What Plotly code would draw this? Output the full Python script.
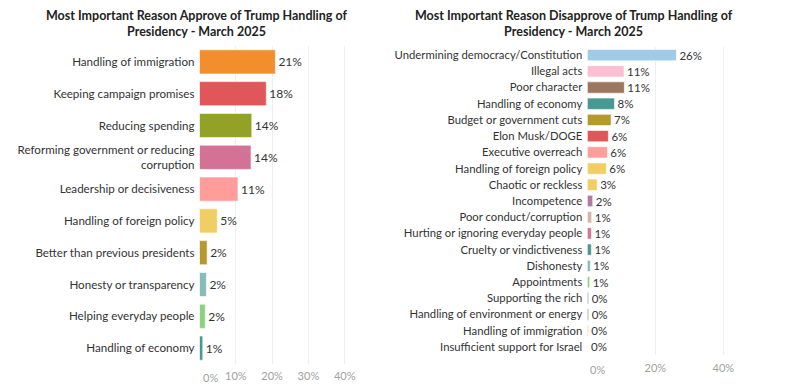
import plotly.graph_objects as go

# ---------------- data ----------------
approve_reasons = [
    "Handling of immigration",
    "Keeping campaign promises",
    "Reducing spending",
    "Reforming government or reducing<br>corruption",
    "Leadership or decisiveness",
    "Handling of foreign policy",
    "Better than previous presidents",
    "Honesty or transparency",
    "Helping everyday people",
    "Handling of economy",
]
approve_values = [20.9, 18.4, 14.4, 14.2, 10.6, 4.9, 2.1, 1.9, 1.6, 0.9]
approve_colors = ["#F28E2B", "#E15759", "#93A126", "#D37295", "#FF9D9A",
                  "#F1CE63", "#B6992D", "#86BCB6", "#8CD17D", "#499894"]

disapprove_reasons = [
    "Undermining democracy/Constitution",
    "Illegal acts",
    "Poor character",
    "Handling of economy",
    "Budget or government cuts",
    "Elon Musk/DOGE",
    "Executive overreach",
    "Handling of foreign policy",
    "Chaotic or reckless",
    "Incompetence",
    "Poor conduct/corruption",
    "Hurting or ignoring everyday people",
    "Cruelty or vindictiveness",
    "Dishonesty",
    "Appointments",
    "Supporting the rich",
    "Handling of environment or energy",
    "Handling of immigration",
    "Insufficient support for Israel",
]
disapprove_values = [26.2, 10.8, 10.9, 8.0, 7.0, 6.2, 5.9, 5.6, 2.9, 1.6,
                     1.3, 1.2, 1.2, 0.9, 0.7, 0.4, 0.4, 0.3, 0.2]
disapprove_colors = ["#A0CBE8", "#FABFD2", "#9D7660", "#499894", "#B6992D",
                     "#E15759", "#FF9D9A", "#F1CE63", "#F1CE63", "#B07AA1",
                     "#D7B5A6", "#D37295", "#499894", "#86BCB6", "#8CD17D",
                     "#7D9CC0", "#8A8A8A", "#FFBE7D", "#FBD9E2"]

left_ticks = [0, 10, 20, 30, 40, 50]
left_ticktext = ["", "10%", "20%", "30%", "40%", ""]
right_ticks = [0, 20, 40, 50]
right_ticktext = ["", "20%", "40%", ""]
zero_label = "0%"

left_title = "Most Important Reason Approve of Trump Handling of<br>Presidency - March 2025"
right_title = "Most Important Reason Disapprove of Trump Handling of<br>Presidency - March 2025"

FONT = "Lato"
OFF = 8            # default page body margin
W, H = 788 - OFF, 390 - OFF

fig = go.Figure()

fig.add_trace(go.Bar(
    x=approve_values, y=approve_reasons, orientation="h",
    marker=dict(color=approve_colors, line=dict(color="rgba(255,255,255,0.6)", width=1)),
    width=0.76,
    text=[f"{v:.0f}%" for v in approve_values], textposition="outside",
    constraintext="none",
    textfont=dict(family=FONT, size=12, color="#333333"),
    cliponaxis=False, xaxis="x", yaxis="y", showlegend=False,
))
fig.add_trace(go.Bar(
    x=disapprove_values, y=disapprove_reasons, orientation="h",
    marker=dict(color=disapprove_colors, line=dict(color="rgba(255,255,255,0.6)", width=1)),
    width=0.7,
    text=[f"{v:.0f}%" for v in disapprove_values], textposition="outside",
    constraintext="none",
    textfont=dict(family=FONT, size=11.5, color="#333333"),
    cliponaxis=False, xaxis="x2", yaxis="y2", showlegend=False,
))

def px_x(p):
    return (p - OFF) / W

def px_y(p):
    return 1 - (p - OFF) / H

TICKFONT = dict(family=FONT, size=11, color="#A0A0A0")

fig.update_layout(
    width=W, height=H,
    margin=dict(l=0, r=0, t=0, b=0, autoexpand=False),
    paper_bgcolor="white", plot_bgcolor="white",
    font=dict(family=FONT, color="#333333"),
    xaxis=dict(domain=[px_x(199.5), px_x(381)], range=[0, 50],
               tickvals=left_ticks, ticktext=left_ticktext,
               showgrid=True, gridcolor="#EFEFEF", gridwidth=1,
               zeroline=False, showline=False, automargin=False,
               tickfont=TICKFONT, ticklabelstandoff=4,
               anchor="y", fixedrange=True),
    yaxis=dict(domain=[px_y(364), px_y(46)], autorange="reversed",
               categoryorder="array", categoryarray=approve_reasons,
               showgrid=False, zeroline=False, showline=False, automargin=False,
               tickfont=dict(family=FONT, size=11.6, color="#333333"),
               ticklabelstandoff=4,
               anchor="x", fixedrange=True),
    xaxis2=dict(domain=[px_x(587.3), px_x(757.3)], range=[0, 50],
                tickvals=right_ticks, ticktext=right_ticktext,
                showgrid=True, gridcolor="#EFEFEF", gridwidth=1,
                zeroline=False, showline=False, automargin=False,
                tickfont=TICKFONT, ticklabelstandoff=5,
                anchor="y2", fixedrange=True),
    yaxis2=dict(domain=[px_y(355), px_y(47)], autorange="reversed",
                categoryorder="array", categoryarray=disapprove_reasons,
                showgrid=False, zeroline=False, showline=False, automargin=False,
                tickfont=dict(family=FONT, size=11.3, color="#333333"),
                ticklabelstandoff=4,
                anchor="x2", fixedrange=True),
    annotations=[
        dict(text="<b>" + left_title + "</b>", x=px_x(197), y=px_y(6),
             xref="paper", yref="paper", xanchor="center", yanchor="top",
             showarrow=False, font=dict(family=FONT, size=12.5, color="#222222")),
        dict(text="<b>" + right_title + "</b>", x=px_x(574), y=px_y(6),
             xref="paper", yref="paper", xanchor="center", yanchor="top",
             showarrow=False, font=dict(family=FONT, size=12.5, color="#222222")),
        dict(text=zero_label, x=0, xref="x", y=px_y(377), yref="paper",
             xanchor="left", yanchor="middle", xshift=1, showarrow=False,
             font=TICKFONT),
        dict(text=zero_label, x=0, xref="x2", y=px_y(369), yref="paper",
             xanchor="left", yanchor="middle", xshift=1, showarrow=False,
             font=TICKFONT),
    ],
)

fig.write_html("out.html")
